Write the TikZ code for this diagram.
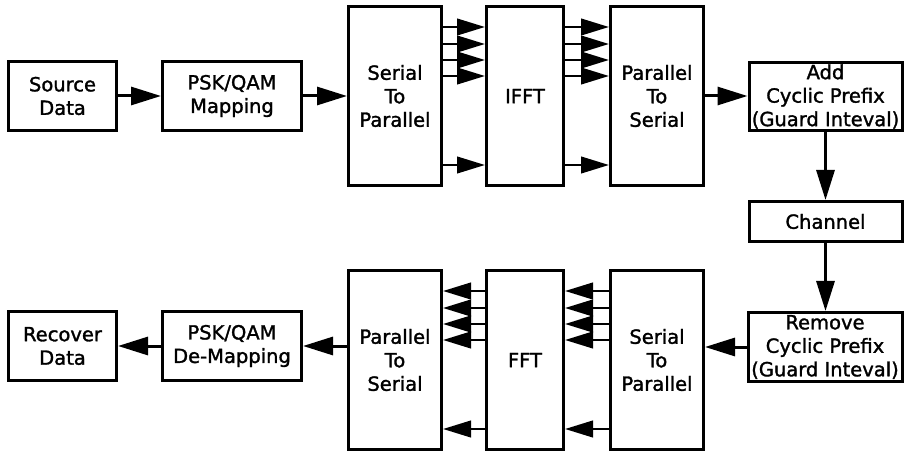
\documentclass[tikz,border=0pt]{standalone}
\usepackage{fontspec}
\newfontfamily\lblfont{DejaVu Sans}[FakeBold=1.5]
\usetikzlibrary{arrows.meta}
\begin{document}
\begin{tikzpicture}[x=1pt,y=-1pt,
  blk/.style={draw, line width=3pt, inner sep=0pt, align=center,
    font=\lblfont\fontsize{19.5pt}{23.5pt}\selectfont, fill=white},
  arr/.style={line width=3pt, -{Triangle[length=30pt,width=18pt]}},
  sarr/.style={line width=2.6pt, -{Triangle[length=28pt,width=16.5pt]}}]
\useasboundingbox (0,0) rectangle (905,454);
\fill[white] (0,0) rectangle (905,454);
% top row
\node[blk, minimum width=108pt, minimum height=69pt] (src) at (62.5,96) {Source\\Data};
\node[blk, minimum width=139pt, minimum height=69pt] (map) at (232,96) {PSK/QAM\\Mapping};
\node[blk, minimum width=93pt, minimum height=179pt] (sp) at (395,96) {Serial\\To\\Parallel};
\node[blk, minimum width=77pt, minimum height=179pt] (ifft) at (525,96) {IFFT};
\node[blk, minimum width=93pt, minimum height=179pt] (ps) at (657,96) {Parallel\\To\\Serial};
\node[blk, minimum width=153pt, minimum height=68pt] (acp) at (825.5,96.5) {Add\\Cyclic Prefix\\(Guard Inteval)};
\node[blk, minimum width=153pt, minimum height=40pt] (ch) at (825.5,221.5) {Channel};
\node[blk, minimum width=154pt, minimum height=69pt] (rcp) at (825,347) {Remove\\Cyclic Prefix\\(Guard Inteval)};
% bottom row
\node[blk, minimum width=93pt, minimum height=179pt] (bsp) at (657,360) {Serial\\To\\Parallel};
\node[blk, minimum width=77pt, minimum height=179pt] (fft) at (525,360) {FFT};
\node[blk, minimum width=93pt, minimum height=179pt] (bps) at (395,360) {Parallel\\To\\Serial};
\node[blk, minimum width=139pt, minimum height=69pt] (demap) at (232,346) {PSK/QAM\\De-Mapping};
\node[blk, minimum width=108pt, minimum height=69pt] (rec) at (62.5,346) {Recover\\Data};
% main connectors
\draw[arr] (src.east) -- (map.west);
\draw[arr] (map.east) -- (sp.west |- map.east);
\draw[arr] (ps.east) -- (acp.west |- ps.east);
\draw[arr] (acp.south) -- (ch.north);
\draw[arr] (ch.south) -- (rcp.north -| ch.south);
\draw[arr] (rcp.west) -- (bsp.east |- rcp.west);
\draw[arr] (bps.west |- demap.east) -- (demap.east);
\draw[arr] (demap.west) -- (rec.east |- demap.west);
% parallel connectors
\foreach \d in {22,39,55,71,160} {
  \draw[sarr] ([yshift=-\d pt]sp.north east) -- ([yshift=-\d pt]ifft.north west);
  \draw[sarr] ([yshift=-\d pt]ifft.north east) -- ([yshift=-\d pt]ps.north west);
  \draw[sarr] ([yshift=-\d pt]bsp.north west) -- ([yshift=-\d pt]fft.north east);
  \draw[sarr] ([yshift=-\d pt]fft.north west) -- ([yshift=-\d pt]bps.north east);
}
\end{tikzpicture}
\end{document}
